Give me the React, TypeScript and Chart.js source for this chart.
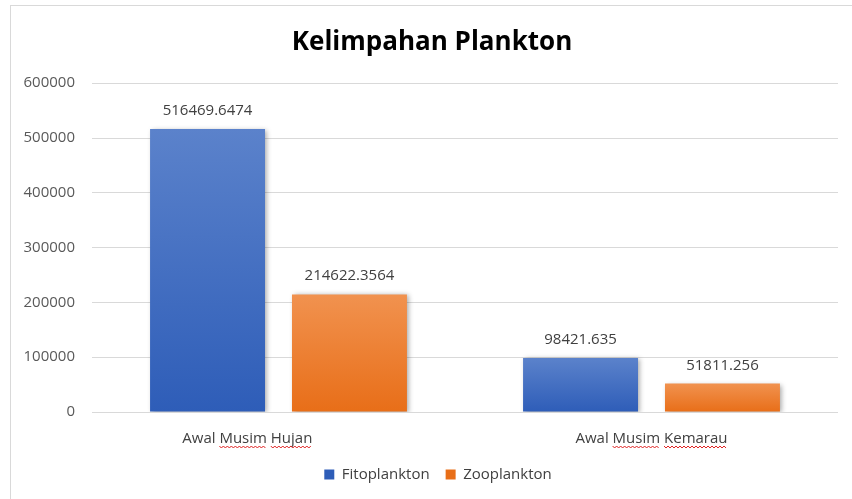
import React, { useEffect, useRef } from "react";
import { Chart, registerables } from "chart.js";

Chart.register(...registerables);

const TITLE = "Kelimpahan Plankton";
const categories = ["Awal Musim Hujan                ", "Awal Musim Kemarau"];
const seriesNames = ["Fitoplankton", "Zooplankton"];
const fitoplankton = [516469.6474, 98421.635];
const zooplankton = [214622.3564, 51811.256];
const yMin = 0;
const yMax = 600000;
const yStep = 100000;
const misspelled = ["Musim", "Hujan", "Kemarau"];

const FONT = "'Open Sans', 'Noto Sans', sans-serif";
const SOLID = ["#4472C4", "#ED7D31"];
const GRAD = [
  ["#5B82CB", "#2E5DB8"],
  ["#F1924F", "#E86E18"],
];
const TITLE_SHIFT = 5;
const LEGEND_SHIFT = 11;

function gradFill(idx: number) {
  return (c: any) => {
    const chart = c.chart;
    if (!chart.chartArea || c.raw === undefined || c.type !== "data") return SOLID[idx];
    const y = chart.scales.y;
    const top = y.getPixelForValue(c.raw);
    const bottom = y.getPixelForValue(0);
    const g = chart.ctx.createLinearGradient(0, top, 0, bottom);
    g.addColorStop(0, GRAD[idx][0]);
    g.addColorStop(1, GRAD[idx][1]);
    return g;
  };
}

const framePlugin = {
  id: "frame",
  afterLayout(chart: any) {
    if (chart.titleBlock) {
      chart.titleBlock.left += TITLE_SHIFT;
      chart.titleBlock.right += TITLE_SHIFT;
    }
    if (chart.legend) {
      chart.legend.left += LEGEND_SHIFT;
      chart.legend.right += LEGEND_SHIFT;
    }
  },
  beforeDraw(chart: any) {
    const ctx = chart.ctx;
    ctx.save();
    ctx.fillStyle = "#ffffff";
    ctx.fillRect(0, 0, chart.width, chart.height);
    ctx.strokeStyle = "#d9d9d9";
    ctx.lineWidth = 1;
    ctx.strokeRect(10.5, 5.5, 2000, 2000);
    ctx.restore();
  },
};

const shadowPlugin = {
  id: "barShadow",
  beforeDatasetDraw(chart: any) {
    const ctx = chart.ctx;
    ctx.save();
    ctx.shadowColor = "rgba(0,0,0,0.35)";
    ctx.shadowBlur = 5;
    ctx.shadowOffsetX = 2;
    ctx.shadowOffsetY = 1;
  },
  afterDatasetDraw(chart: any) {
    chart.ctx.restore();
  },
};

const valueLabelPlugin = {
  id: "valueLabels",
  afterDatasetsDraw(chart: any) {
    const ctx = chart.ctx;
    ctx.save();
    ctx.font = `15px ${FONT}`;
    ctx.fillStyle = "#404040";
    ctx.textAlign = "center";
    ctx.textBaseline = "alphabetic";
    chart.data.datasets.forEach((ds: any, di: number) => {
      const meta = chart.getDatasetMeta(di);
      meta.data.forEach((bar: any, i: number) => {
        ctx.fillText(String(ds.data[i]), bar.x, bar.y - 14);
      });
    });
    ctx.restore();
  },
};

const squigglePlugin = {
  id: "squiggle",
  afterDraw(chart: any) {
    const ctx = chart.ctx;
    const xs = chart.scales.x;
    ctx.save();
    ctx.font = `15px ${FONT}`;
    ctx.strokeStyle = "#e02020";
    ctx.lineWidth = 1;
    const yLine = xs.top + 34;
    (chart.data.labels as string[]).forEach((label, i) => {
      const cx = xs.getPixelForTick(i);
      const w = ctx.measureText(label).width;
      const left = cx - w / 2;
      misspelled.forEach((word) => {
        const idx = label.indexOf(word);
        if (idx < 0) return;
        const x0 = left + ctx.measureText(label.substring(0, idx)).width;
        const ww = ctx.measureText(word).width;
        ctx.beginPath();
        let up = true;
        for (let x = x0; x <= x0 + ww; x += 2) {
          const yy = yLine + (up ? 0 : 2);
          if (x === x0) ctx.moveTo(x, yy);
          else ctx.lineTo(x, yy);
          up = !up;
        }
        ctx.stroke();
      });
    });
    ctx.restore();
  },
};

export default function App() {
  const ref = useRef<HTMLCanvasElement | null>(null);
  useEffect(() => {
    if (!ref.current) return;
    const chart = new Chart(ref.current, {
      type: "bar",
      data: {
        labels: categories,
        datasets: [
          {
            label: seriesNames[0],
            data: fitoplankton,
            backgroundColor: gradFill(0),
            categoryPercentage: 0.761,
            barPercentage: 0.81,
          },
          {
            label: seriesNames[1],
            data: zooplankton,
            backgroundColor: gradFill(1),
            categoryPercentage: 0.761,
            barPercentage: 0.81,
          },
        ],
      },
      options: {
        animation: false,
        responsive: false,
        maintainAspectRatio: false,
        layout: { padding: { left: 16, right: 14, top: 0, bottom: 7 } },
        plugins: {
          title: {
            display: true,
            text: TITLE,
            color: "#000000",
            font: { family: FONT, size: 26, weight: "bold" },
            padding: { top: 27, bottom: 25 },
          },
          legend: {
            position: "bottom",
            labels: {
              boxWidth: 10,
              boxHeight: 10,
              padding: 16,
              color: "#404040",
              font: { family: FONT, size: 15 },
            },
          },
          tooltip: { enabled: false },
        },
        scales: {
          x: {
            grid: { display: false },
            border: { display: false },
            ticks: {
              color: "#404040",
              font: { family: FONT, size: 15 },
              padding: 10,
              maxRotation: 0,
              autoSkip: false,
            },
            afterFit: (s: any) => {
              s.height = 39;
            },
          },
          y: {
            min: yMin,
            max: yMax,
            grid: { color: "#d9d9d9", drawTicks: false },
            border: { display: false },
            ticks: {
              stepSize: yStep,
              color: "#595959",
              font: { family: FONT, size: 15 },
              padding: 17,
              callback: (v: any) => String(v),
            },
            afterFit: (s: any) => {
              s.width = 76;
            },
          },
        },
      },
      plugins: [framePlugin, shadowPlugin, valueLabelPlugin, squigglePlugin],
    });
    return () => chart.destroy();
  }, []);
  return (
    <div style={{ position: "fixed", left: 0, top: 0, width: 852, height: 499, background: "#fff", overflow: "hidden" }}>
      <canvas ref={ref} width={852} height={499} style={{ display: "block" }} />
    </div>
  );
}
